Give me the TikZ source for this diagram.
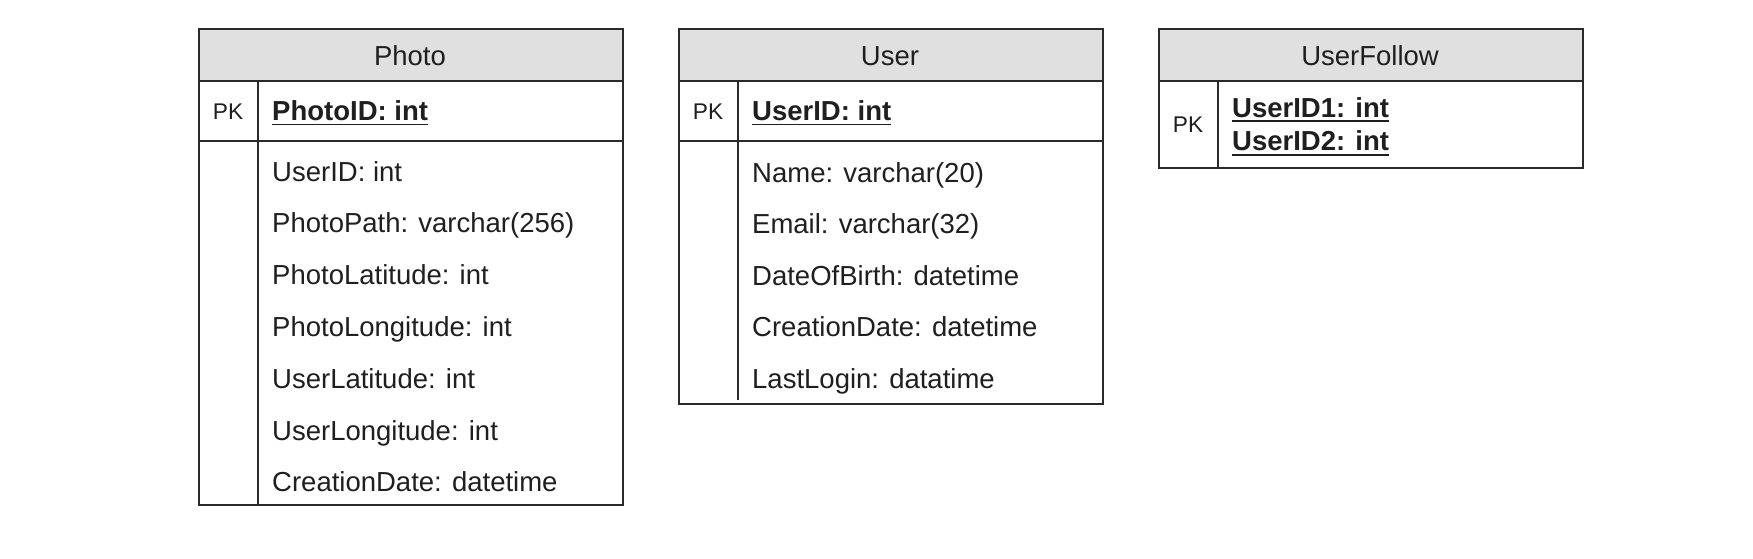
\documentclass[tikz,border=0pt]{standalone}
\usepackage{fontspec}
\setmainfont{Liberation Sans}
\definecolor{linec}{HTML}{2A2A2A}
\definecolor{hdrfill}{HTML}{E0E0E0}
\definecolor{txt}{HTML}{1F1F1F}
\newcommand\attrfont{\fontsize{27.5}{33}\selectfont}
\newcommand\pkfont{\fontsize{22.7}{27}\selectfont}
\tikzset{
  cell/.style={draw=linec, line width=1.8pt, inner sep=0pt, anchor=north west, minimum width=424pt},
  headcell/.style={cell, fill=hdrfill, minimum height=52pt},
  divline/.style={draw=linec, line width=1.8pt},
  uline/.style={draw=txt, line width=1.8pt},
  title/.style={anchor=base, inner sep=0pt, font=\attrfont, text=txt},
  attr/.style={anchor=base west, inner sep=0pt, font=\attrfont, text=txt},
  keyattr/.style={attr, font=\attrfont\bfseries},
  pklabel/.style={anchor=base, inner sep=0pt, font=\pkfont, text=txt}
}
\begin{document}
\begin{tikzpicture}[x=1pt,y=-1pt]
\useasboundingbox (0,0) rectangle (1753,558);
\fill[white] (0,0) rectangle (1753,558);

% ---------- Photo ----------
\node[headcell] (photoHead) at (198,28) {};
\node[cell, minimum height=60pt] (photoPK) at (198,80) {};
\node[cell, minimum height=364pt] (photoBody) at (198,140) {};
\coordinate (photoDivTop) at (258,80);
\coordinate (photoDivBot) at (258,504);
\draw[divline] (photoDivTop) -- (photoDivBot);
\node[title] (photoTitle) at (410,65.7) {Photo};
\node[pklabel] (photoPKlab) at (228,119.5) {PK};
\node[keyattr] (photoKey) at (272,120) {PhotoID: int};
\draw[uline] ([yshift=-4.5pt]photoKey.base west) -- ([yshift=-4.5pt]photoKey.base east);
\foreach \t [count=\i from 0] in {UserID: int, PhotoPath: varchar(256), PhotoLatitude: int, PhotoLongitude: int, UserLatitude: int, UserLongitude: int, CreationDate: datetime}
  \node[attr] (photoA\i) at (272,181+51.8*\i) {\t};

% ---------- User ----------
\node[headcell] (userHead) at (678,28) {};
\node[cell, minimum height=60pt] (userPK) at (678,80) {};
\node[cell, minimum height=263pt] (userBody) at (678,140) {};
\coordinate (userDivTop) at (738,80);
\coordinate (userDivBot) at (738,400);
\draw[divline] (userDivTop) -- (userDivBot);
\node[title] (userTitle) at (890,65.7) {User};
\node[pklabel] (userPKlab) at (708,119.5) {PK};
\node[keyattr] (userKey) at (752,120) {UserID: int};
\draw[uline] ([yshift=-4.5pt]userKey.base west) -- ([yshift=-4.5pt]userKey.base east);
\foreach \t [count=\i from 0] in {Name: varchar(20), Email: varchar(32), DateOfBirth: datetime, CreationDate: datetime, LastLogin: datatime}
  \node[attr] (userA\i) at (752,182+51.5*\i) {\t};

% ---------- UserFollow ----------
\node[headcell] (ufHead) at (1158,28) {};
\node[cell, minimum height=87pt] (ufPK) at (1158,80) {};
\coordinate (ufDivTop) at (1218,80);
\coordinate (ufDivBot) at (1218,167);
\draw[divline] (ufDivTop) -- (ufDivBot);
\node[title] (ufTitle) at (1370,65.7) {UserFollow};
\node[pklabel] (ufPKlab) at (1188,132.3) {PK};
\node[keyattr] (ufKey1) at (1232,117.5) {UserID1: int};
\node[keyattr] (ufKey2) at (1232,150.8) {UserID2: int};
\draw[uline] ([yshift=-3.8pt]ufKey1.base west) -- ([yshift=-3.8pt]ufKey1.base east);
\draw[uline] ([yshift=-3.8pt]ufKey2.base west) -- ([yshift=-3.8pt]ufKey2.base east);
\end{tikzpicture}
\end{document}
